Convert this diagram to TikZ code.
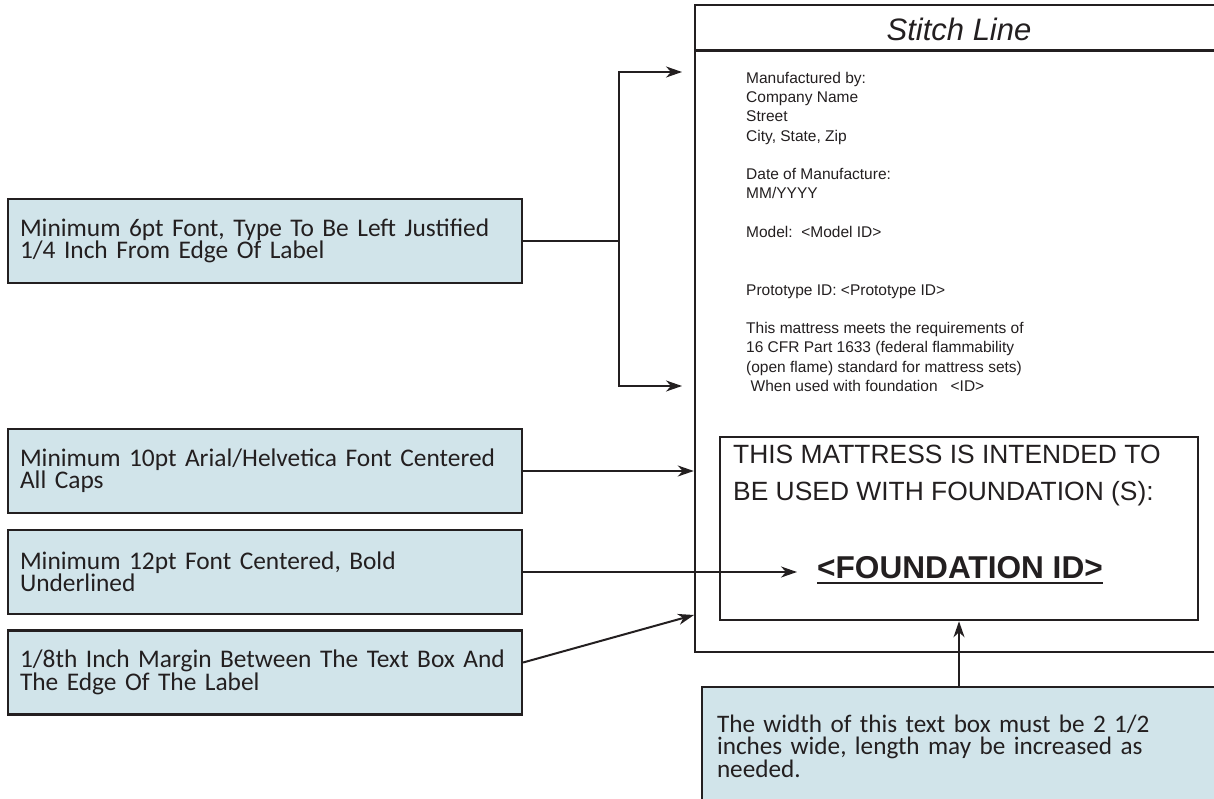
\documentclass[tikz,border=0pt]{standalone}
\usepackage{fontspec}
\setmainfont{Carlito}
\newfontfamily\arialfont{Liberation Sans}
\usepackage{tikz}
\usetikzlibrary{arrows.meta}

\definecolor{calloutblue}{RGB}{209,228,234}
\definecolor{inkdark}{RGB}{35,31,32}

\begin{document}
\begin{tikzpicture}[
  x=1pt, y=-1pt,
  edge/.style={draw=inkdark,line width=2.5pt},
  callout/.style={draw=inkdark,line width=2.2pt,fill=calloutblue,text=inkdark,
    minimum width=514pt,minimum height=84pt,text width=490pt,inner xsep=12pt,
    align=left,font=\fontsize{25.4}{22}\selectfont},
  conn/.style={inkdark,line width=2pt,-{Stealth[length=16pt,width=11pt,inset=5pt]}},
  labeltext/.style={inner sep=0pt,text=inkdark,align=left}
]
\useasboundingbox (0,0) rectangle (1214,799);

% the label itself
\node[edge,minimum width=535pt,minimum height=647pt] (label) at (962.5,328.5) {};
\draw[edge] ([yshift=-47pt]label.north west) -- ([yshift=-47pt]label.north east);
\node[labeltext,font=\arialfont\itshape\fontsize{31}{36}\selectfont] (stitch) at (959,29) {Stitch Line};

\node[labeltext,anchor=north west,font=\arialfont\fontsize{15.5}{19.25}\selectfont] (maker) at (746,72) {%
  Manufactured by:\\Company Name\\Street\\City, State, Zip\\[19.25pt]
  Date of Manufacture:\\MM/YYYY\\[19.25pt]
  Model:\ \ <Model ID>\\[38.5pt]
  Prototype ID: <Prototype ID>\\[19.25pt]
  This mattress meets the requirements of\\16 CFR Part 1633 (federal flammability\\
  (open flame) standard for mattress sets)\\
  \hspace{4.5pt}When used with foundation\hspace{13pt}<ID>};

\node[edge,minimum width=478pt,minimum height=183pt] (inner) at (959,528.5) {};
\node[labeltext,anchor=west,font=\arialfont\fontsize{26.4}{37}\selectfont] (intended) at (733,476)
  {THIS MATTRESS IS INTENDED TO\\BE USED WITH FOUNDATION (S):};
\node[labeltext,font=\arialfont\bfseries\fontsize{31.6}{36}\selectfont] (fid) at (960,568) {<FOUNDATION ID>};
\draw[edge] ([yshift=-4pt]fid.base west) -- ([yshift=-4pt]fid.base east);

% callouts
\node[callout] (leftjust) at (265,241) {Minimum 6pt Font, Type To Be Left Justified\\1/4 Inch From Edge Of Label};
\node[callout] (allcaps) at (265,471) {Minimum 10pt Arial/Helvetica Font Centered\\All Caps};
\node[callout] (boldul) at (265,572) {Minimum 12pt Font Centered, Bold\\Underlined};
\node[callout] (margin) at (265,672.5) {1/8th Inch Margin Between The Text Box And\\The Edge Of The Label};
\node[callout,minimum width=528pt,minimum height=118pt,text width=498pt,inner xsep=15pt,
  font=\fontsize{25.2}{22.5}\selectfont] (widthnote) at (966,746)
  {The width of this text box must be 2 1/2\\inches wide, length may be increased as\\needed.};

% connectors
\coordinate (fork) at (619,241);
\coordinate (tipmaker) at (682,72);
\coordinate (tipflame) at (682,386);
\coordinate (tipbold) at (797,572);
\coordinate (tipmargin) at (694,615);

\draw[edge,line width=2pt] (leftjust.east) -- (fork);
\draw[conn] (fork) |- (tipmaker);
\draw[conn] (fork) |- (tipflame);
\draw[conn] (allcaps.east) -- (allcaps.east -| label.west);
\draw[conn] (boldul.east) -- (tipbold);
\draw[conn] ([yshift=10pt]margin.east) -- (tipmargin);
\draw[conn] (widthnote.north -| inner.south) -- (inner.south);

\end{tikzpicture}
\end{document}
